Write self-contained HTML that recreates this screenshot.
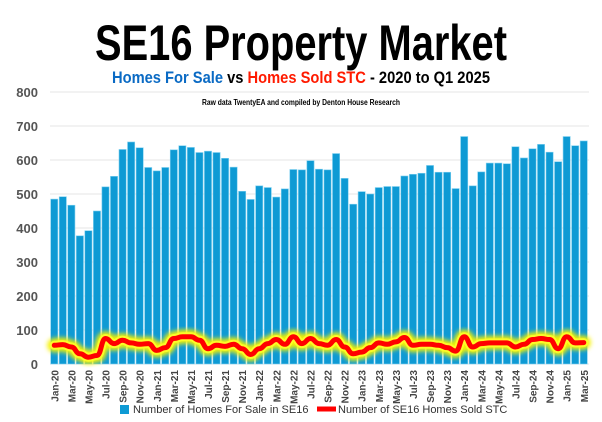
<!DOCTYPE html>
<html><head><meta charset="utf-8"><style>
html,body{margin:0;padding:0;background:#fff;}
svg{display:block;font-family:"Liberation Sans",sans-serif;}
</style></head><body>
<svg id="c" width="602" height="422" viewBox="0 0 602 422" xmlns="http://www.w3.org/2000/svg">
<defs><filter id="bl" x="-5%" y="-50%" width="110%" height="200%"><feGaussianBlur stdDeviation="2.5"/></filter></defs>
<text x="301" y="60" text-anchor="middle" font-size="50" font-weight="bold" textLength="412" lengthAdjust="spacingAndGlyphs" fill="#000">SE16 Property Market</text>
<text x="301" y="83" text-anchor="middle" font-size="17" font-weight="bold" textLength="378" lengthAdjust="spacingAndGlyphs"><tspan fill="#0a6ac4">Homes For Sale</tspan><tspan fill="#000"> vs </tspan><tspan fill="#ff1a00">Homes Sold STC</tspan><tspan fill="#000"> - 2020 to Q1 2025</tspan></text>
<text x="301" y="105" text-anchor="middle" font-size="8" font-weight="bold" textLength="198" lengthAdjust="spacingAndGlyphs" fill="#000">Raw data TwentyEA and compiled by Denton House Research</text>
<g id="g"></g>
</svg>
<script>
var g=document.getElementById('g'),ns='http://www.w3.org/2000/svg';
function el(t,a,txt){var e=document.createElementNS(ns,t);for(var k in a)e.setAttribute(k,a[k]);if(txt!=null)e.textContent=txt;g.appendChild(e);return e;}
var y0=364,sc=0.34,x0=50,sw=8.54;
for(var v=0;v<=800;v+=100){var y=y0-v*sc;el('line',{x1:x0,x2:589,y1:y,y2:y,stroke:'#e6e6e6','stroke-width':1});
el('text',{x:38,y:y+5,'text-anchor':'end','font-size':13,'font-weight':'bold',fill:'#555'},v);}
var bars=[485,492,467,377,392,450,521,552,631,653,636,578,568,578,630,642,637,622,626,622,605,579,508,484,524,519,491,515,572,571,598,573,571,619,546,470,507,500,519,522,522,553,558,561,584,564,564,516,669,524,565,591,591,589,639,606,633,646,623,595,669,642,656];
var line=[55,57,50,30,20,25,45,75,60,70,62,58,60,40,48,75,80,80,70,45,55,52,58,45,28,45,60,72,58,80,60,75,60,55,72,50,30,35,48,62,58,65,78,55,58,58,55,48,38,80,50,60,62,62,62,50,58,72,75,72,45,80,62,63];
// ensure 63 entries aligned: remove extra at index 6
line.splice(6,1);
var mon=['Jan','Feb','Mar','Apr','May','Jun','Jul','Aug','Sep','Oct','Nov','Dec'];
for(var i=0;i<63;i++){var cx=x0+(i+0.5)*sw;var h=bars[i]*sc;
el('rect',{x:cx-3.6,y:y0-h,width:7.2,height:h,fill:'#0e9ad4',stroke:'#7fd0f0','stroke-width':0.6});
if(i%2==0){var yr=20+Math.floor(i/12);el('text',{x:0,y:0,transform:'translate('+(cx+4)+',370) rotate(-90)','text-anchor':'end','font-size':10,'font-weight':'bold',fill:'#444'},mon[i%12]+'-'+yr);}}
var d='';for(var i=0;i<63;i++){var cx=x0+(i+0.5)*sw,y=y0-line[i]*sc;
if(i==0)d='M'+cx+' '+y;else{var px=x0+(i-0.5)*sw,py=y0-line[i-1]*sc,m=(px+cx)/2;d+=' C'+m+' '+py+' '+m+' '+y+' '+cx+' '+y;}}
el('path',{d:d,fill:'none',stroke:'#f6f200','stroke-width':14,filter:'url(#bl)','stroke-linecap':'round'});
el('path',{d:d,fill:'none',stroke:'#ffff30','stroke-width':9,'stroke-linecap':'round',opacity:0.8});
el('path',{d:d,fill:'none',stroke:'#ff0000','stroke-width':5,'stroke-linecap':'round'});
el('rect',{x:120,y:405,width:9,height:9,fill:'#0e9ad4'});
el('text',{x:133,y:413,'font-size':11,fill:'#333'},'Number of Homes For Sale in SE16');
el('line',{x1:317,x2:336,y1:409,y2:409,stroke:'#ff0000','stroke-width':5});
el('text',{x:338,y:413,'font-size':11,fill:'#333'},'Number of SE16 Homes Sold STC');
</script>
</body></html>
